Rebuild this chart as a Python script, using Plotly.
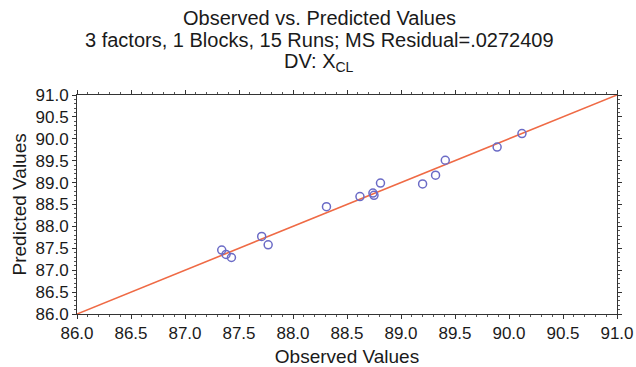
import plotly.graph_objects as go

# Observed vs. predicted values for the 15 runs
observed = [87.34, 87.38, 87.43, 87.71, 87.77, 88.31, 88.62, 88.74, 88.75,
            88.81, 89.20, 89.32, 89.41, 89.89, 90.12]
predicted = [87.46, 87.36, 87.29, 87.77, 87.58, 88.45, 88.68, 88.76, 88.71,
             88.99, 88.97, 89.17, 89.51, 89.81, 90.12]

# Line of perfect agreement
ref_x = [86.0, 91.0]
ref_y = [86.0, 91.0]

title_lines = [
    "Observed vs. Predicted Values",
    "3 factors, 1 Blocks, 15 Runs; MS Residual=.0272409",
    "DV: X<sub>CL</sub>",
]

FONT = "Liberation Sans, Arial, sans-serif"
TXT = "#1a1a1a"

fig = go.Figure()
fig.add_trace(go.Scatter(
    x=ref_x, y=ref_y, mode="lines",
    line=dict(color="#ef6a45", width=1.6),
    hoverinfo="skip", showlegend=False,
))
fig.add_trace(go.Scatter(
    x=observed, y=predicted, mode="markers",
    marker=dict(symbol="circle-open", size=8, color="#6b6bc6",
                line=dict(width=1.5, color="#6b6bc6")),
    showlegend=False,
))

axis_common = dict(
    range=[86.0, 91.0], dtick=0.5, tick0=86.0, tickformat=".1f",
    showgrid=False, zeroline=False, automargin=False,
    showline=True, linecolor="#333333", linewidth=1, mirror="allticks",
    tickcolor="#333333", ticklen=4, ticks="outside",
    tickfont=dict(family=FONT, size=17, color=TXT),
    minor=dict(dtick=0.1, ticklen=2, tickcolor="#555555", ticks="outside"),
)

fig.update_xaxes(**axis_common,
                 title=dict(text="Observed Values",
                            font=dict(family=FONT, size=19, color=TXT)))
fig.update_yaxes(**axis_common)

plot_left, plot_w = 77, 540
plot_top, plot_bottom = 95, 314
plot_h = plot_bottom - plot_top

# y-axis title placed a little closer to the tick labels
fig.add_annotation(
    text="Predicted Values", textangle=-90,
    xref="paper", yref="paper", x=(19 - plot_left) / plot_w, y=0.5,
    xanchor="center", yanchor="middle", showarrow=False,
    font=dict(family=FONT, size=19, color=TXT),
)

line_centres = [18, 40, 62]
for text, yc in zip(title_lines, line_centres):
    fig.add_annotation(
        text=text, xref="paper", yref="paper",
        x=(319 - plot_left) / plot_w, y=(plot_bottom - yc) / plot_h,
        xanchor="center", yanchor="middle", showarrow=False,
        font=dict(family=FONT, size=20, color=TXT),
    )

fig.update_layout(
    width=636, height=367,
    margin=dict(l=77, r=19, t=95, b=53),
    paper_bgcolor="white", plot_bgcolor="white",
    font=dict(family=FONT, color=TXT),
)

fig.write_html("out.html")
